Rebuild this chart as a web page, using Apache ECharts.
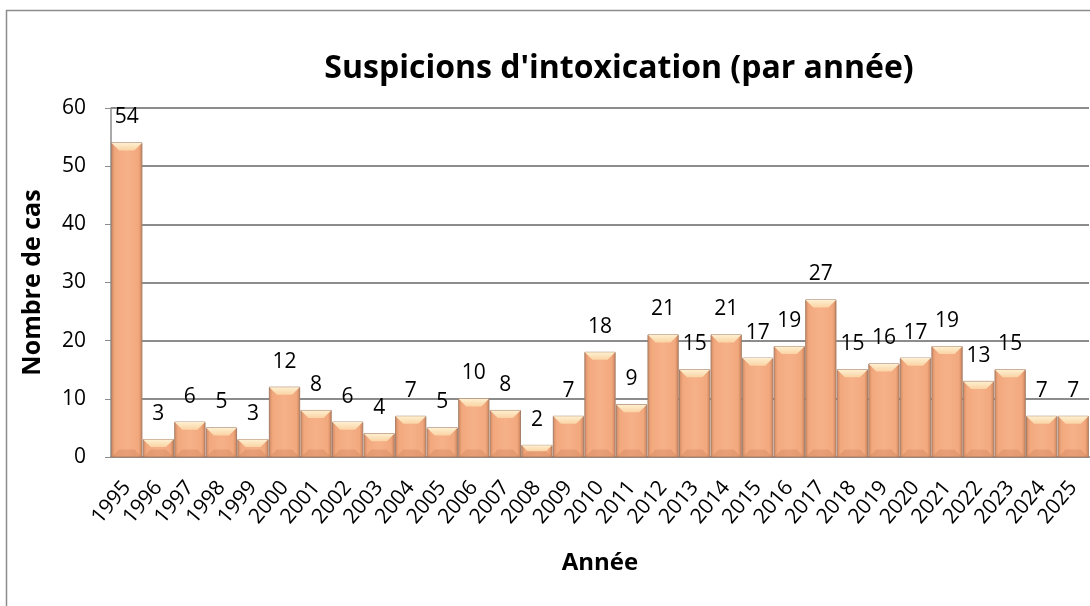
<!DOCTYPE html>
<html>
<head>
<meta charset="utf-8">
<script src="https://cdn.jsdelivr.net/npm/echarts@6/dist/echarts.min.js"></script>
<style>
  html, body { margin: 0; padding: 0; background: #fff; }
  #chart { width: 1090px; height: 606px; }
</style>
</head>
<body>
<div id="chart"></div>
<script>
var years = ['1995','1996','1997','1998','1999','2000','2001','2002','2003','2004','2005',
             '2006','2007','2008','2009','2010','2011','2012','2013','2014','2015','2016',
             '2017','2018','2019','2020','2021','2022','2023','2024','2025'];
var cases = [54, 3, 6, 5, 3, 12, 8, 6, 4, 7, 5, 10, 8, 2, 7, 18, 9, 21, 15, 21, 17, 19,
             27, 15, 16, 17, 19, 13, 15, 7, 7];
var yTicks = [0, 10, 20, 30, 40, 50, 60];

var font = 'Open Sans';
var chart = echarts.init(document.getElementById('chart'));

// barre "biseautée" façon Excel
function renderBar(params, api) {
    var x = api.value(0);
    var v = api.value(1);
    var top = api.coord([x, v]);
    var base = api.coord([x, 0]);
    var w = api.size([1, 0])[0] * 0.96;
    var l = top[0] - w / 2, r = top[0] + w / 2;
    var h = base[1] - top[1];
    var b = Math.min(10, h / 2, w / 4);
    return {
        type: 'group',
        children: [
            { type: 'rect', shape: { x: l, y: top[1], width: w, height: h },
              style: { fill: {
                  type: 'linear', x: 0, y: 0, x2: 1, y2: 0,
                  colorStops: [
                      { offset: 0, color: '#d08660' },
                      { offset: 0.12, color: '#f2a87d' },
                      { offset: 0.5, color: '#f6b189' },
                      { offset: 0.88, color: '#f2a87d' },
                      { offset: 1, color: '#c97f57' }
                  ] }, stroke: '#a77f68', lineWidth: 1 } },
            { type: 'polygon', shape: { points: [[l, top[1]], [r, top[1]], [r - b, top[1] + b], [l + b, top[1] + b]] },
              style: { fill: {
                  type: 'linear', x: 0, y: 0, x2: 0, y2: 1,
                  colorStops: [
                      { offset: 0, color: '#fdf0d0' },
                      { offset: 1, color: '#fbd3a4' }
                  ] } } },
            { type: 'polygon', shape: { points: [[l, base[1]], [r, base[1]], [r - b, base[1] - b], [l + b, base[1] - b]] },
              style: { fill: 'rgba(200,120,80,0.3)' } },
            { type: 'text', style: {
                  text: String(v), x: top[0], y: top[1] - 15,
                  align: 'center', verticalAlign: 'bottom',
                  fontFamily: font, fontSize: 21, fill: '#000' } }
        ]
    };
}

var option = {
    animation: false,
    title: {
        text: "Suspicions d'intoxication (par année)",
        left: 614,
        textAlign: 'center',
        top: 48,
        textStyle: { fontFamily: font, fontSize: 32, fontWeight: 'bold', color: '#000' }
    },
    graphic: [{
        type: 'rect', left: 4, top: 8,
        shape: { width: 1100, height: 640 },
        style: { fill: 'none', stroke: '#8c8c8c', lineWidth: 1.5 }
    }],
    grid: { left: 111, right: 1, top: 108, bottom: 149 },
    xAxis: {
        type: 'category',
        data: years,
        name: 'Année',
        nameLocation: 'middle',
        nameGap: 94,
        nameTextStyle: { fontFamily: font, fontSize: 24, fontWeight: 'bold', color: '#000' },
        axisLine: { lineStyle: { color: '#8c8c8c', width: 2 } },
        axisTick: { show: false },
        axisLabel: { rotate: 50, interval: 0, fontFamily: font, fontSize: 21, color: '#000', margin: 27 }
    },
    yAxis: {
        type: 'value',
        min: yTicks[0],
        max: yTicks[yTicks.length - 1],
        interval: 10,
        name: 'Nombre de cas',
        nameLocation: 'middle',
        nameGap: 66,
        nameTextStyle: { fontFamily: font, fontSize: 25, fontWeight: 'bold', color: '#000' },
        axisLine: { show: true, lineStyle: { color: '#8c8c8c', width: 1.5 } },
        axisTick: { show: true, length: 6, lineStyle: { color: '#8c8c8c' } },
        splitLine: { lineStyle: { color: '#8c8c8c', width: 2 } },
        axisLabel: { fontFamily: font, fontSize: 21, color: '#000', margin: 25 }
    },
    series: [{
        type: 'custom',
        renderItem: renderBar,
        encode: { x: 0, y: 1 },
        data: cases.map(function (c, i) { return [i, c]; })
    }]
};
chart.setOption(option);
</script>
</body>
</html>
